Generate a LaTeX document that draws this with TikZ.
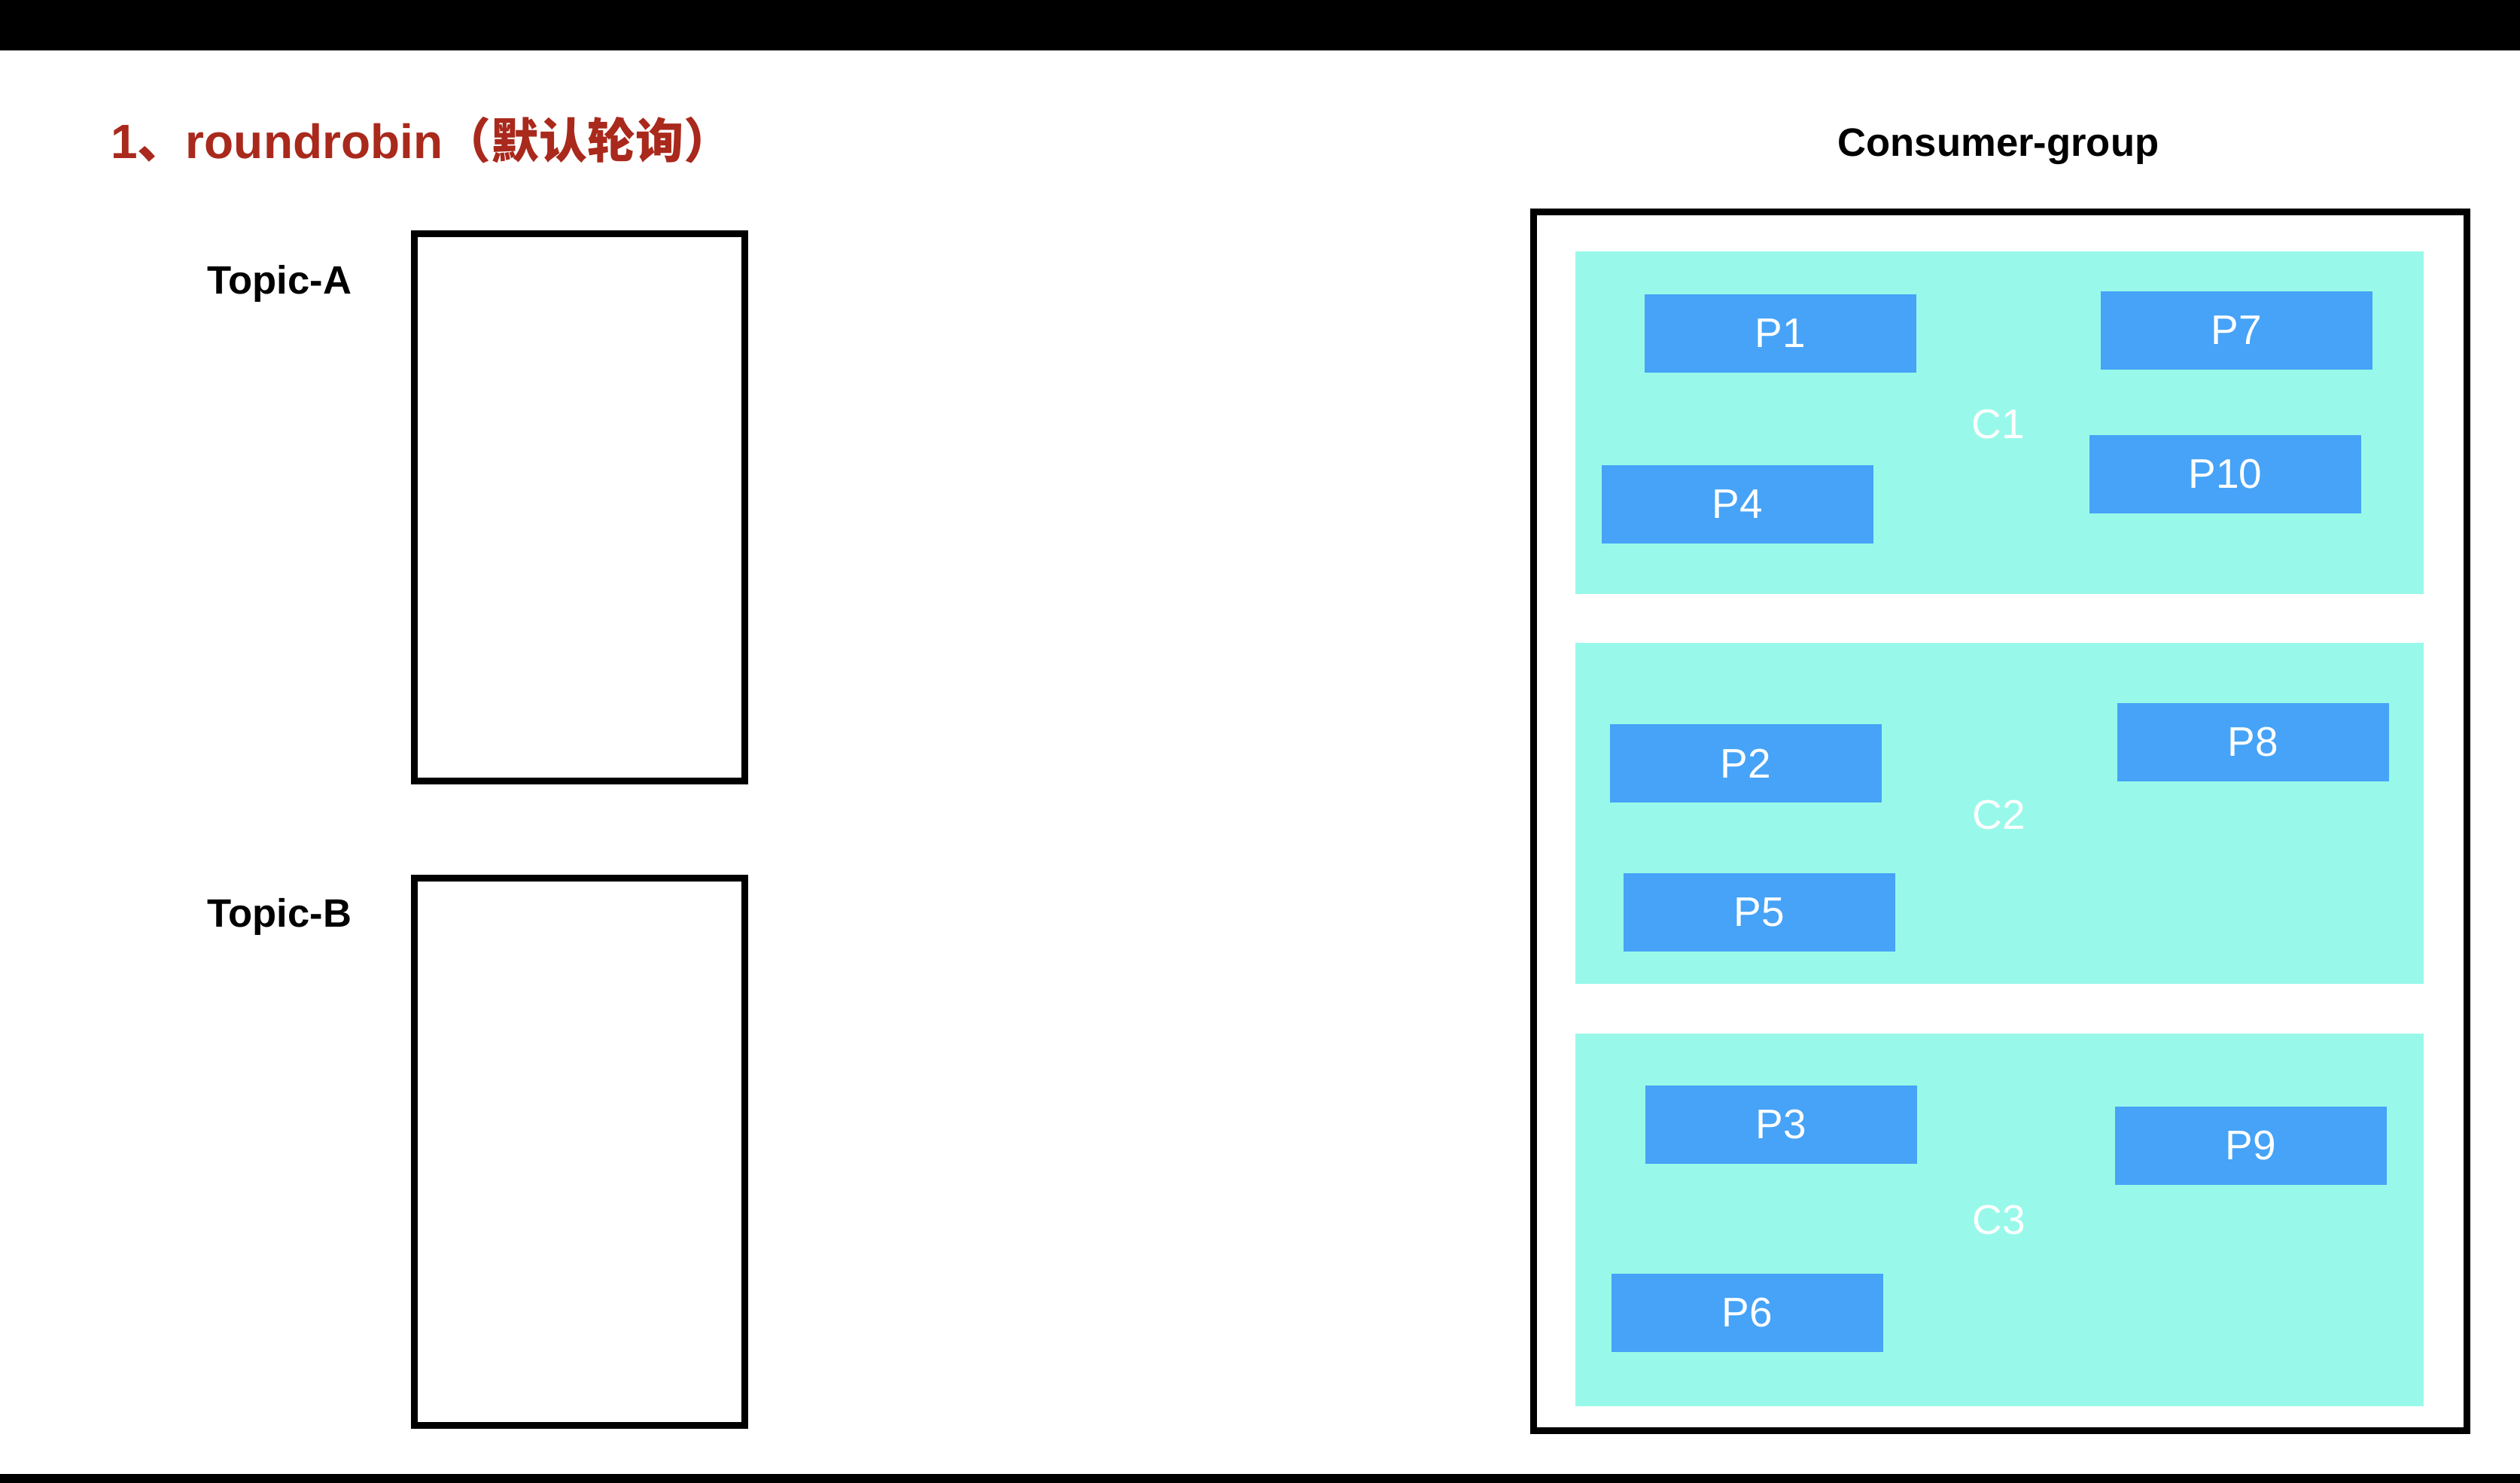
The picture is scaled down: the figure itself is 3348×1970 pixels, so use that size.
\documentclass[tikz,border=0pt]{standalone}
\usepackage{fontspec}
\setmainfont{Liberation Sans}
\newfontfamily\cjk{Noto Sans CJK SC}
\definecolor{titlered}{HTML}{A9291C}
\definecolor{teal}{HTML}{98F9EA}
\definecolor{pblue}{HTML}{46A3F7}
\begin{document}
\begin{tikzpicture}[x=0.5pt,y=-0.5pt,
  topicbox/.style={draw=black,line width=4.4pt,fill=white,minimum width=219.5pt,minimum height=363.5pt,inner sep=0pt},
  groupbox/.style={draw=black,line width=4.4pt,minimum width=620pt,minimum height=809.5pt,inner sep=0pt},
  consumer/.style={fill=teal,draw=none,minimum width=563.5pt,inner sep=0pt},
  part/.style={fill=pblue,draw=none,minimum width=180.5pt,minimum height=52pt,inner sep=0pt,text=white,font=\fontsize{27.5pt}{27.5pt}\selectfont},
  clabel/.style={text=white,inner sep=0pt,font=\fontsize{27.5pt}{27.5pt}\selectfont},
  heading/.style={inner sep=0pt,font=\fontsize{26.3pt}{26.3pt}\selectfont\bfseries}]
\useasboundingbox (0,0) rectangle (3348,1970);
\fill[white] (0,0) rectangle (3348,1970);
% black bars
\fill[black] (0,0) rectangle (3348,67);
\fill[black] (0,1958) rectangle (3348,1970);
% title
\node[anchor=base west,inner sep=0pt,text=titlered,font=\fontsize{32pt}{32pt}\selectfont\bfseries] (title) at (147,210) {1{\cjk 、}roundrobin{\cjk （默认轮询）}};
% topics
\node[heading,anchor=base west] (ta) at (275,390) {Topic-A};
\node[heading,anchor=base west] (tb) at (275,1231) {Topic-B};
\node[topicbox] (boxa) at (770,674) {};
\node[topicbox] (boxb) at (770,1530) {};
% consumer group
\node[heading,anchor=base] (cg) at (2655,207) {Consumer-group};
\node[groupbox] (group) at (2657.5,1091) {};
\node[consumer,minimum height=227.5pt] (c1) at (2656.5,561.5) {};
\node[consumer,minimum height=226.5pt] (c2) at (2656.5,1080.5) {};
\node[consumer,minimum height=247.5pt] (c3) at (2656.5,1620.5) {};
\node[clabel] (c1l) at (2655,564) {C1};
\node[clabel] (c2l) at (2656,1083) {C2};
\node[clabel] (c3l) at (2656,1621) {C3};
% partitions
\node[part] (p1) at (2365.5,442.5) {P1};
\node[part] (p7) at (2971.5,439) {P7};
\node[part] (p4) at (2308.5,670) {P4};
\node[part] (p10) at (2956.5,629.5) {P10};
\node[part] (p2) at (2319.5,1014) {P2};
\node[part] (p8) at (2993.5,985.5) {P8};
\node[part] (p5) at (2337.5,1211.5) {P5};
\node[part] (p3) at (2366.5,1493.5) {P3};
\node[part] (p9) at (2990.5,1521.5) {P9};
\node[part] (p6) at (2321.5,1743.5) {P6};
\end{tikzpicture}
\end{document}
